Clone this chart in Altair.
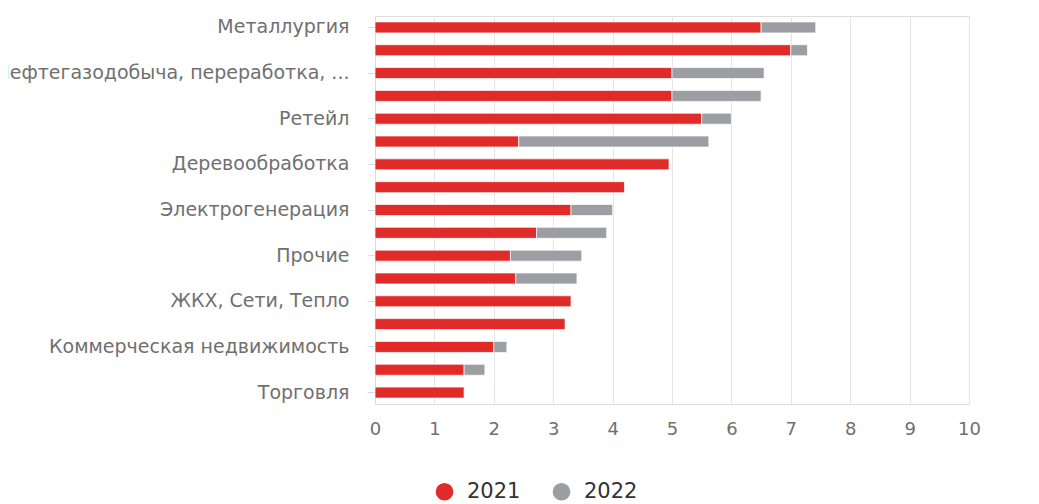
import altair as alt
import pandas as pd

categories = [
    "Металлургия",
    "Химическая промышленность",
    "Нефтегазодобыча, переработка, транспортировка",
    "Машиностроение",
    "Ретейл",
    "Транспорт и логистика",
    "Деревообработка",
    "Строительство",
    "Электрогенерация",
    "Агропромышленный комплекс",
    "Прочие",
    "Пищевая промышленность",
    "ЖКХ, Сети, Тепло",
    "Телекоммуникации",
    "Коммерческая недвижимость",
    "Девелопмент",
    "Торговля",
]
values_2021 = [6.5, 7.0, 5.0, 5.0, 5.5, 2.42, 4.95, 4.2, 3.3, 2.72, 2.28, 2.37, 3.3, 3.2, 2.0, 1.5, 1.5]
values_2022 = [0.92, 0.28, 1.55, 1.5, 0.5, 3.2, 0.0, 0.0, 0.7, 1.18, 1.2, 1.03, 0.0, 0.0, 0.22, 0.35, 0.0]
years = ["2021", "2022"]
x_ticks = list(range(0, 11))

shown = categories[::2]

rows = []
for c, a, b in zip(categories, values_2021, values_2022):
    rows.append({"category": c, "year": years[0], "value": a})
    if b > 0:
        rows.append({"category": c, "year": years[1], "value": b})
df = pd.DataFrame(rows)

shown_list = "[" + ",".join("'" + s + "'" for s in shown) + "]"
show_test = f"indexof({shown_list}, datum.value) >= 0"
label_expr = (
    f"{show_test} ? (length(datum.label) > 33 ? slice(datum.label, 0, 30) + '...' : datum.label) : ''"
)

FONT = "DejaVu Sans"

chart = (
    alt.Chart(df)
    .mark_bar(size=11, stroke="#ffffff", strokeWidth=1, strokeOpacity=0.7)
    .encode(
        x=alt.X(
            "value:Q",
            stack="zero",
            scale=alt.Scale(domain=[0, 10], nice=False),
            axis=alt.Axis(
                values=x_ticks,
                title=None,
                domain=False,
                ticks=False,
                grid=True,
                gridColor="#e3e5ea",
                gridWidth=1,
                labelFont=FONT,
                labelFontSize=18,
                labelColor="#707070",
                labelPadding=16,
                labelFlush=False,
            ),
        ),
        y=alt.Y(
            "category:N",
            sort=categories,
            scale=alt.Scale(paddingInner=0, paddingOuter=0),
            axis=alt.Axis(
                title=None,
                labelExpr=label_expr,
                labelFont=FONT,
                labelFontSize=19,
                labelColor="#707070",
                labelPadding=18,
                labelLimit=1000,
                domain=True,
                domainColor="#d3dbee",
                domainWidth=1,
                ticks=True,
                tickSize=8,
                tickColor="#d3dbee",
                tickOpacity={"condition": {"test": show_test, "value": 1}, "value": 0},
                grid=False,
            ),
        ),
        color=alt.Color(
            "year:N",
            scale=alt.Scale(domain=years, range=["#e02b28", "#9c9ea3"]),
            legend=alt.Legend(
                title=None,
                orient="none",
                direction="horizontal",
                legendX=59,
                legendY=465,
                symbolType="circle",
                symbolSize=314,
                symbolStrokeWidth=0,
                labelFont=FONT,
                labelFontSize=21,
                labelColor="#333333",
                labelOffset=12,
                columnPadding=30,
                padding=0,
            ),
        ),
        order=alt.Order("year:N", sort="ascending"),
    )
    .properties(
        width=594,
        height=388,
        autosize=alt.AutoSizeParams(type="none"),
        padding={"left": 367, "top": 8, "right": 62, "bottom": 100},
    )
    .configure_view(stroke=None)
    .configure(background="#ffffff")
)

chart.save("out.html", embed_options={"renderer": "svg", "actions": False})
